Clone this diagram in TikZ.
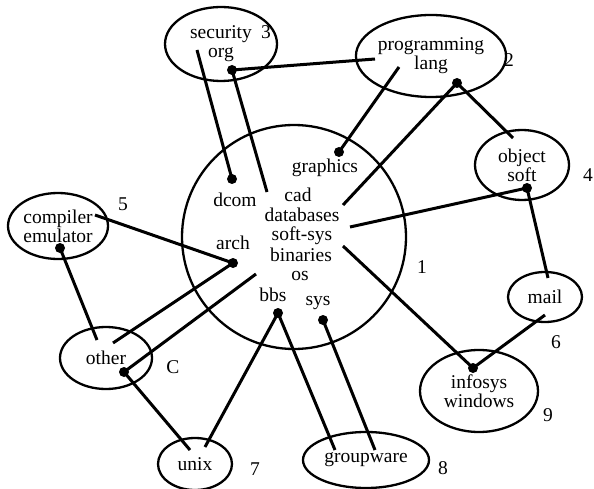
\documentclass[tikz,border=0pt]{standalone}
\usepackage{fontspec}
\setmainfont{Liberation Serif}
\usetikzlibrary{shapes.geometric}
\begin{document}
\begin{tikzpicture}[x=1pt,y=-1pt,
  ell/.style={draw,ellipse,line width=2.3pt,inner sep=0pt,align=center,font=\fontsize{19.5}{19}\selectfont},
  lbl/.style={inner sep=0pt,font=\fontsize{19.5}{19}\selectfont},
  dotn/.style={circle,fill,inner sep=0pt,minimum size=10pt},
  con/.style={line width=3pt}]
\useasboundingbox (0,0) rectangle (594,489);
% big circle
\node[draw,circle,line width=2.3pt,minimum size=224pt,inner sep=0pt] (big) at (294,237) {};
% ellipses
\node[ell,minimum width=112pt,minimum height=74pt] (sec) at (221,44) {security\\org};
\node[ell,minimum width=130pt,minimum height=82pt] (prog) at (431,56) {programming\\lang};
\node[ell,minimum width=94pt,minimum height=70pt] (obj) at (522,165) {object\\soft};
\node[ell,minimum width=74pt,minimum height=50pt] (mail) at (545,297) {mail};
\node[ell,minimum width=118pt,minimum height=82pt] (info) at (479,391) {infosys\\windows};
\node[ell,minimum width=126pt,minimum height=56pt] (grp) at (366,460) {groupware};
\node[ell,minimum width=74pt,minimum height=52pt] (unix) at (195,464) {unix};
\node[ell,minimum width=92pt,minimum height=62pt] (other) at (106,358) {other};
\node[ell,minimum width=100pt,minimum height=66pt] (comp) at (58,226) {compiler\\emulator};
% numbers
\node[lbl] (n1) at (422,267) {1};
\node[lbl] (n2) at (509,60) {2};
\node[lbl] (n3) at (266,32) {3};
\node[lbl] (n4) at (588,175) {4};
\node[lbl] (n5) at (123,204) {5};
\node[lbl] (n6) at (556,342) {6};
\node[lbl] (n7) at (255,469) {7};
\node[lbl] (n8) at (443,468) {8};
\node[lbl] (n9) at (548,415) {9};
\node[lbl] (nC) at (173,367) {C};
% inner texts
\node[lbl] (tgraph) at (325,168) {graphics};
\node[lbl] (tdcom) at (235,200) {dcom};
\node[lbl] (tcad) at (298,195) {cad};
\node[lbl] (tdb) at (302,215) {databases};
\node[lbl] (tss) at (302,236) {soft-sys};
\node[lbl] (tbin) at (301,255) {binaries};
\node[lbl] (tos) at (300,276) {os};
\node[lbl] (tarch) at (233,243) {arch};
\node[lbl] (tbbs) at (273,295) {bbs};
\node[lbl] (tsys) at (318,303) {sys};
% dots
\node[dotn] (dsec) at (232,70) {};
\node[dotn] (ddcom) at (232,179) {};
\node[dotn] (dgraph) at (339,152) {};
\node[dotn] (dprog) at (457,83) {};
\node[dotn] (dobj) at (527,188) {};
\node[dotn] (dinfo) at (473,368) {};
\node[dotn] (darch) at (233,263) {};
\node[dotn] (dcomp) at (60,248) {};
\node[dotn] (dother) at (124,372) {};
\node[dotn] (dbbs) at (278,313) {};
\node[dotn] (dsys) at (323,320) {};
% free ends
\coordinate (pL) at (375,59);
\coordinate (pIn) at (399,67);
\coordinate (secIn) at (197,50);
\coordinate (cadE) at (267,192);
\coordinate (dbE) at (343,205);
\coordinate (ssE) at (350,227);
\coordinate (binE) at (343,246);
\coordinate (osE) at (256,274);
\coordinate (objTop) at (513,138);
\coordinate (mailTop) at (548,278);
\coordinate (mailBot) at (545,315);
\coordinate (compR) at (95,215);
\coordinate (otherTopR) at (113,343);
\coordinate (otherTop) at (97,340);
\coordinate (unixL) at (190,450);
\coordinate (unixR) at (205,447);
\coordinate (grpL) at (335,450);
\coordinate (grpR) at (375,450);
% connectors
\draw[con] (dsec.center) -- (pL);
\draw[con] (dsec.center) -- (cadE);
\draw[con] (secIn) -- (ddcom.center);
\draw[con] (dgraph.center) -- (pIn);
\draw[con] (dprog.center) -- (dbE);
\draw[con] (dprog.center) -- (objTop);
\draw[con] (dobj.center) -- (ssE);
\draw[con] (dobj.center) -- (mailTop);
\draw[con] (mailBot) -- (dinfo.center);
\draw[con] (dinfo.center) -- (binE);
\draw[con] (compR) -- (darch.center);
\draw[con] (darch.center) -- (otherTopR);
\draw[con] (dcomp.center) -- (otherTop);
\draw[con] (dother.center) -- (osE);
\draw[con] (dother.center) -- (unixL);
\draw[con] (dbbs.center) -- (unixR);
\draw[con] (dbbs.center) -- (grpL);
\draw[con] (dsys.center) -- (grpR);
\end{tikzpicture}
\end{document}
